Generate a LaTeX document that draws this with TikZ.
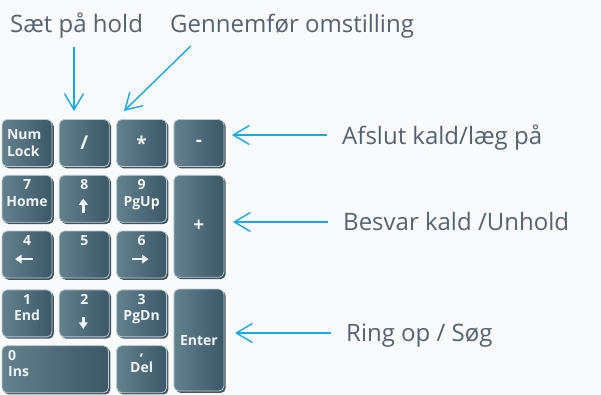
\documentclass[tikz,border=0pt]{standalone}
\usepackage{fontspec}
\setmainfont{Open Sans}
\usetikzlibrary{positioning,arrows.meta,shadows}
\definecolor{bgcol}{HTML}{F9FAFC}
\definecolor{labelcol}{HTML}{56626F}
\definecolor{pointcol}{HTML}{1AA8E2}
\definecolor{keylight}{HTML}{64818E}
\definecolor{keydark}{HTML}{3C5766}
\definecolor{keyedge}{HTML}{B9CAD2}
\definecolor{keyshade}{HTML}{2E4250}
\definecolor{keyink}{HTML}{EEF3F5}
\newcommand{\keyfoot}{\rule[-12pt]{0pt}{12pt}}
\tikzstyle{key} = [rectangle, rounded corners=5pt, draw=keyedge, line width=0.8pt, left color=keylight, right color=keydark, text=keyink, font=\fontsize{14}{16.5}\selectfont\bfseries, align=center, minimum width=50pt, minimum height=47pt, inner sep=0pt, drop shadow={shadow xshift=1.8pt, shadow yshift=-1.8pt, fill=keyshade, opacity=0.9}]
\tikzstyle{wide} = [key, minimum width=106.5pt]
\tikzstyle{tall} = [key, minimum height=102pt]
\tikzstyle{sign} = [font=\fontsize{19}{20}\selectfont\bfseries]
\tikzstyle{caption} = [font=\fontsize{24}{28}\selectfont, text=labelcol, inner sep=0pt, anchor=base west]
\tikzstyle{pointer} = [-{Straight Barb[length=16pt,width=19pt]}, draw=pointcol, line width=1.4pt]
\tikzstyle{keyarrow} = [-{Triangle[length=6.5pt,width=8.5pt]}, draw=keyink, line width=2.4pt]

\begin{document}
\begin{tikzpicture}[x=1pt,y=1pt]
  \fill[bgcol] (0,0) rectangle (601,395);
  \useasboundingbox (0,0) rectangle (601,395);

  \node[key, text width=40pt, align=left] (NumLock) at (27,252) {Num\\Lock};
  \node[key, sign] (Slash) [right=6.5pt of NumLock] {/};
  \node[key, sign] (Star) [right=6.5pt of Slash] {*};
  \node[key, sign] (Minus) [right=6.5pt of Star] {-};
  \node[key] (Home) [below=8pt of NumLock] {7\\Home\keyfoot};
  \node[key] (Up) [right=6.5pt of Home] {8\\\keyfoot};
  \node[key] (PgUp) [right=6.5pt of Up] {9\\PgUp\keyfoot};
  \node[tall, sign] (Plus) [below=8pt of Minus] {+};
  \node[key] (Left) [below=8pt of Home] {4\\\keyfoot};
  \node[key] (Five) [right=6.5pt of Left] {5\\\keyfoot};
  \node[key] (Right) [right=6.5pt of Five] {6\\\keyfoot};
  \node[key] (End) [below=11pt of Left] {1\\End\keyfoot};
  \node[key] (Down) [right=6.5pt of End] {2\\\keyfoot};
  \node[key] (PgDn) [right=6.5pt of Down] {3\\PgDn\keyfoot};
  \node[tall] (Enter) [below=11pt of Plus] {Enter};
  \node[wide, text width=94pt, align=left] (Ins) [below=8pt of End.south west, anchor=north west] {0\\Ins\keyfoot};
  \node[key] (Del) [below=8pt of PgDn] {,\\Del\keyfoot};

  \draw[keyarrow] ([shift={(-1pt,-14.5pt)}]Up.center) -- ([shift={(-1pt,0.5pt)}]Up.center);
  \draw[keyarrow] ([shift={(6pt,-4.5pt)}]Left.center) -- ([shift={(-12pt,-4.5pt)}]Left.center);
  \draw[keyarrow] ([shift={(-10pt,-4.5pt)}]Right.center) -- ([shift={(7pt,-4.5pt)}]Right.center);
  \draw[keyarrow] ([shift={(-1pt,-3.5pt)}]Down.center) -- ([shift={(-1pt,-15.5pt)}]Down.center);

  \node[caption] (Hold) at (10,362) {Sæt på hold};
  \node[caption] (Transfer) at (170,362) {Gennemfør omstilling};
  \node[caption] (EndCall) at (342,250) {Afslut kald/læg på};
  \node[caption] (Answer) at (343,164) {Besvar kald /Unhold};
  \node[caption] (Dial) at (346,53) {Ring op / Søg};

  \coordinate (tSlash) at (74,284);
  \coordinate (tStar) at (124,284);
  \coordinate (tMinus) at (232,260);
  \coordinate (tPlus) at (233,173);
  \coordinate (tEnter) at (235,62);

  \draw[pointer, shorten <=8pt] (Hold.south -| tSlash) -- (tSlash);
  \draw[pointer, shorten <=10pt] ([xshift=28pt]Transfer.south west) -- (tStar);
  \draw[pointer, shorten <=15pt] (EndCall.west |- tMinus) -- (tMinus);
  \draw[pointer, shorten <=15pt] (Answer.west |- tPlus) -- (tPlus);
  \draw[pointer, shorten <=15pt] (Dial.west |- tEnter) -- (tEnter);
\end{tikzpicture}
\end{document}
